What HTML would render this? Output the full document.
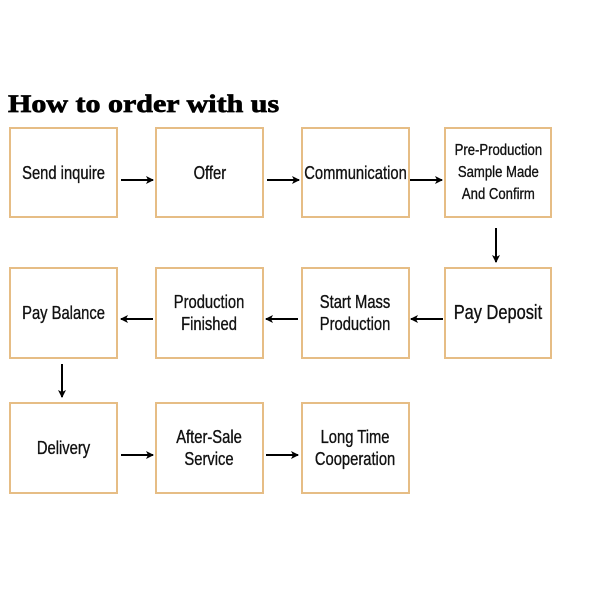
<!DOCTYPE html>
<html><head><style>
body{margin:0;width:600px;height:600px;background:#fff;position:relative;overflow:hidden;font-family:"Liberation Sans",sans-serif}
.t{position:absolute;left:8px;top:91px;font-family:"Liberation Serif",serif;font-weight:bold;font-size:25px;color:#000;transform:scaleX(1.2);transform-origin:left top;-webkit-text-stroke:0.7px #000}
.b{position:absolute;border:2px solid #e6bd85;box-sizing:border-box;display:flex;align-items:center;justify-content:center;text-align:center;font-size:18px;line-height:22px;color:#111}
.b span{display:inline-block;transform:scaleX(0.82);white-space:nowrap;-webkit-text-stroke:0.35px #111}
</style></head><body>
<div class="t">How to order with us</div>
<div class="b" style="left:9px;top:127px;width:109px;height:91px"><span>Send inquire</span></div>
<div class="b" style="left:155px;top:127px;width:109px;height:91px"><span>Offer</span></div>
<div class="b" style="left:301px;top:127px;width:109px;height:91px"><span>Communication</span></div>
<div class="b" style="left:444px;top:127px;width:108px;height:91px;font-size:16px;line-height:22px"><span>Pre-Production<br>Sample Made<br>And Confirm</span></div>
<div class="b" style="left:9px;top:267px;width:109px;height:92px"><span>Pay Balance</span></div>
<div class="b" style="left:155px;top:267px;width:109px;height:92px"><span>Production<br>Finished</span></div>
<div class="b" style="left:301px;top:267px;width:109px;height:92px"><span>Start Mass<br>Production</span></div>
<div class="b" style="left:444px;top:267px;width:108px;height:92px;font-size:20px"><span>Pay Deposit</span></div>
<div class="b" style="left:9px;top:402px;width:109px;height:92px"><span>Delivery</span></div>
<div class="b" style="left:155px;top:402px;width:109px;height:92px"><span>After-Sale<br>Service</span></div>
<div class="b" style="left:301px;top:402px;width:109px;height:92px"><span>Long Time<br>Cooperation</span></div>
<svg width="600" height="600" style="position:absolute;left:0;top:0">
<defs><marker id="a" markerWidth="8" markerHeight="8" refX="7" refY="4" orient="auto" markerUnits="userSpaceOnUse"><path d="M0,0 L8,4 L0,8 L2,4 Z" fill="#000"/></marker></defs>
<g stroke="#000" stroke-width="2" marker-end="url(#a)">
<line x1="121" y1="180" x2="153" y2="180"/>
<line x1="267" y1="180" x2="299" y2="180"/>
<line x1="410" y1="180" x2="442" y2="180"/>
<line x1="496" y1="228" x2="496" y2="262"/>
<line x1="443" y1="319" x2="411" y2="319"/>
<line x1="298" y1="319" x2="266" y2="319"/>
<line x1="153" y1="319" x2="121" y2="319"/>
<line x1="62" y1="364" x2="62" y2="397"/>
<line x1="121" y1="455" x2="153" y2="455"/>
<line x1="266" y1="455" x2="298" y2="455"/>
</g></svg>
</body></html>
